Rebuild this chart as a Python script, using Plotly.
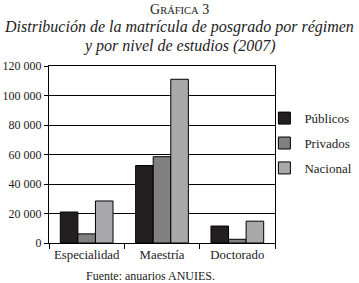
import plotly.graph_objects as go

categories = ["Especialidad", "Maestría", "Doctorado"]
publicos = [21000, 52500, 11500]
privados = [6200, 58500, 2500]
nacional = [28500, 111000, 14800]
series_names = ["Públicos", "Privados", "Nacional"]
colors = ["#231f20", "#808080", "#a9a9ab"]
ytick_vals = [0, 20000, 40000, 60000, 80000, 100000, 120000]
ytick_text = ["0", "20 000", "40 000", "60 000", "80 000", "100 000", "120 000"]

FONT = "Liberation Serif, DejaVu Serif, serif"
fig = go.Figure()
for name, vals, c in zip(series_names, [publicos, privados, nacional], colors):
    fig.add_trace(go.Bar(x=categories, y=vals, name=name, legendgroup=name,
                         marker=dict(color=c, line=dict(color="black", width=1))))

fig.update_layout(
    width=359, height=283,
    margin=dict(l=49, r=84, t=66, b=40, autoexpand=False),
    paper_bgcolor="white", plot_bgcolor="white",
    barmode="group", bargap=0.3, bargroupgap=0,
    font=dict(family=FONT, size=12, color="#222"),
    showlegend=True,
    legend=dict(x=0.953, xanchor="left", y=0.79, yanchor="top",
                bgcolor="rgba(0,0,0,0)",
                font=dict(family=FONT, size=13, color="#222"),
                tracegroupgap=5, itemwidth=30),
    xaxis=dict(showgrid=False, ticks="outside", tickson="boundaries", ticklen=5,
               tickcolor="black", showline=True, linecolor="black", mirror=True,
               tickangle=0, automargin=False,
               tickfont=dict(family=FONT, size=12.8, color="#222")),
    yaxis=dict(range=[0, 120000], tickvals=ytick_vals, ticktext=ytick_text,
               showgrid=True, gridcolor="black", gridwidth=1, automargin=False,
               ticks="outside", ticklen=4, tickcolor="black",
               showline=True, linecolor="black", mirror=True, zeroline=False,
               tickfont=dict(family=FONT, size=12, color="#222")),
)

TX = 0.577
fig.add_annotation(text="G<span style='font-size:10.5px'>RÁFICA</span> 3", xref="paper", yref="paper",
                   x=TX, xanchor="center", y=1, yanchor="bottom", yshift=47,
                   showarrow=False, font=dict(family=FONT, size=14, color="#222"))
fig.add_annotation(text="<i>Distribución de la matrícula de posgrado por régimen</i>",
                   xref="paper", yref="paper", x=TX, xanchor="center",
                   y=1, yanchor="bottom", yshift=28, showarrow=False,
                   font=dict(family=FONT, size=16, color="#222"))
fig.add_annotation(text="<i>y por nivel de estudios (2007)</i>",
                   xref="paper", yref="paper", x=TX, xanchor="center",
                   y=1, yanchor="bottom", yshift=9, showarrow=False,
                   font=dict(family=FONT, size=16, color="#222"))
fig.add_annotation(text="Fuente: anuarios ANUIES.", xref="paper", yref="paper",
                   x=0.45, xanchor="center", y=0, yanchor="top", yshift=-24,
                   showarrow=False, font=dict(family=FONT, size=12, color="#222"))

fig.write_html("out.html", post_script="document.body.style.margin='0';",
               config={"displayModeBar": False})
